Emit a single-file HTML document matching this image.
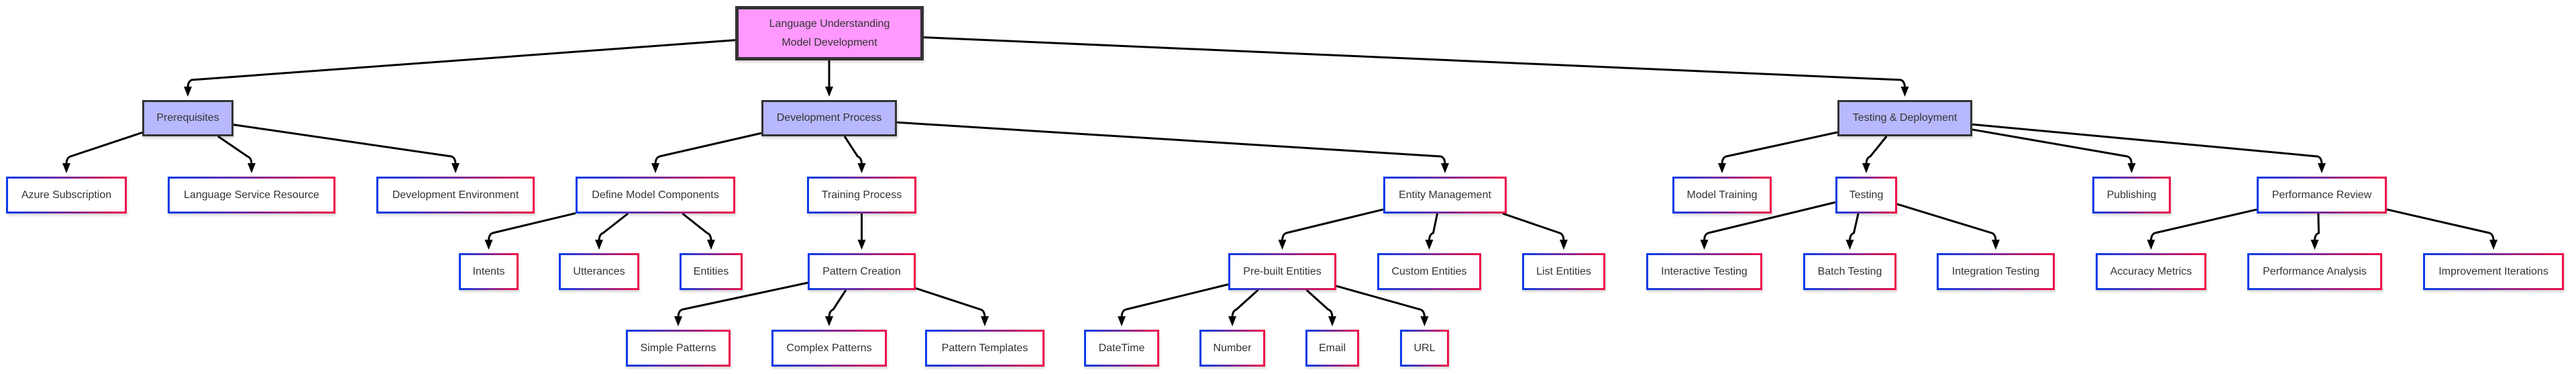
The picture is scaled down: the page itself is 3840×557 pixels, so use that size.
<!DOCTYPE html>
<html><head><meta charset="utf-8"><style>
html,body{margin:0;padding:0;background:#fff;width:3840px;height:557px;overflow:hidden;position:relative;font-family:"Liberation Sans",Arial,sans-serif}
.n{position:absolute;box-sizing:border-box;display:flex;align-items:center;justify-content:center;text-align:center;font-size:16px;color:#333;background:#fff;border:3px solid;border-image:linear-gradient(to right,#0a3be8,#7a2a9a,#f0104a) 1;box-shadow:1px 3px 3px rgba(0,0,0,0.15)}
.m{background:#b8b8ff;border:3px solid #333;border-image:none}
.r{background:#ff99ff;border:5px solid #333;border-image:none;line-height:28px}
svg{position:absolute;left:0;top:0}
</style></head><body>
<svg id="s" width="3840" height="557"><defs><marker id="a" markerWidth="10" markerHeight="10" refX="5" refY="9" orient="auto" markerUnits="userSpaceOnUse" viewBox="0 0 10 10"><path d="M0,0 L10,0 L5,10z" fill="#000"/></marker>
<marker id="b" viewBox="0 0 12 14" refX="6" refY="13" markerWidth="12" markerHeight="14" markerUnits="userSpaceOnUse" orient="0"><path d="M0,0 L12,0 L6,14z" fill="#000"/></marker></defs></svg>
<div id="c"></div>
<script>
var N={
root:[1096,9,1377,90,'Language Understanding<br>Model Development','r'],
pre:[212,149,348,203,'Prerequisites','m'],
dev:[1135,149,1337,203,'Development Process','m'],
td:[2739,149,2940,203,'Testing &amp; Deployment','m'],
az:[9,263,189,318,'Azure Subscription'],
ls:[250,263,500,318,'Language Service Resource'],
de:[561,263,797,318,'Development Environment'],
dm:[858,263,1096,318,'Define Model Components'],
tp:[1203,263,1366,318,'Training Process'],
em:[2062,263,2246,318,'Entity Management'],
mt:[2493,263,2641,318,'Model Training'],
te:[2736,263,2828,318,'Testing'],
pu:[3119,263,3236,318,'Publishing'],
pr:[3364,263,3558,318,'Performance Review'],
in:[684,377,773,432,'Intents'],
ut:[833,377,953,432,'Utterances'],
en:[1013,377,1107,432,'Entities'],
pc:[1204,377,1365,432,'Pattern Creation'],
pb:[1831,377,1992,432,'Pre-built Entities'],
ce:[2053,377,2208,432,'Custom Entities'],
le:[2269,377,2393,432,'List Entities'],
it:[2454,377,2627,432,'Interactive Testing'],
bt:[2688,377,2827,432,'Batch Testing'],
ig:[2887,377,3063,432,'Integration Testing'],
ac:[3124,377,3289,432,'Accuracy Metrics'],
pa:[3350,377,3551,432,'Performance Analysis'],
im:[3612,377,3822,432,'Improvement Iterations'],
sp:[933,491,1089,546,'Simple Patterns'],
cp:[1150,491,1322,546,'Complex Patterns'],
pt:[1379,491,1557,546,'Pattern Templates'],
dt:[1616,491,1728,546,'DateTime'],
nu:[1788,491,1886,546,'Number'],
ema:[1946,491,2026,546,'Email'],
ur:[2087,491,2160,546,'URL']};
var E=[['root','pre'],['root','dev'],['root','td'],['pre','az'],['pre','ls'],['pre','de'],['dev','dm'],['dev','tp'],['dev','em'],['td','mt'],['td','te'],['td','pu'],['td','pr'],['dm','in'],['dm','ut'],['dm','en'],['tp','pc'],['em','pb'],['em','ce'],['em','le'],['te','it'],['te','bt'],['te','ig'],['pr','ac'],['pr','pa'],['pr','im'],['pc','sp'],['pc','cp'],['pc','pt'],['pb','dt'],['pb','nu'],['pb','ema'],['pb','ur']];
var c=document.getElementById('c'),h='';
for(var k in N){var n=N[k];h+='<div class="n '+(n[5]||'')+'" style="left:'+n[0]+'px;top:'+n[1]+'px;width:'+(n[2]-n[0])+'px;height:'+(n[3]-n[1])+'px">'+n[4]+'</div>';}
c.innerHTML=h;
var s=document.getElementById('s'),p='';
E.forEach(function(e){var a=N[e[0]],b=N[e[1]];
var cx=(a[0]+a[2])/2,cy=(a[1]+a[3])/2,tx=(b[0]+b[2])/2,ky=b[1]-30,tip=b[1]-5;
var dx=tx-cx,dy=ky-cy,hw=(a[2]-a[0])/2,hh=(a[3]-a[1])/2;
var t=Math.min(dx?Math.abs(hw/dx):1e9,Math.abs(hh/dy));
var sx=cx+dx*t,sy=cy+dy*t;
var d;
if(Math.abs(dx)<4){d='M'+tx+','+a[3]+' L'+tx+','+(tip-14);}
else{var sg=dx>0?-1:1;d='M'+sx+','+sy+' L'+(tx+sg*6)+','+ky+' Q'+tx+','+(ky+2)+' '+tx+','+(ky+12)+' L'+tx+','+(tip-14);}
p+='<path d="'+d+'" fill="none" stroke="#000" stroke-width="3"/><path d="M'+(tx-6)+','+(tip-15)+' L'+(tx+6)+','+(tip-15)+' L'+tx+','+tip+'z" fill="#000"/>';});
s.innerHTML+=p;
</script>
</body></html>
